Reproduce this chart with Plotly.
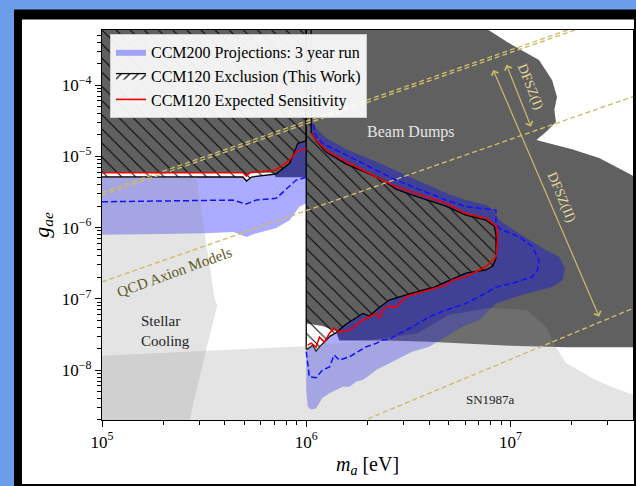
import numpy as np
import plotly.graph_objects as go

# ---------------- data (m_a in eV, g_ae) ----------------
# Beam dump exclusion (dark grey)
beam_m = [9e4, 5.6e6, 7.6e6, 1.02e7, 1.38e7, 1.6e7, 1.69e7, 1.64e7, 1.67e7, 1.51e7, 1.34e7,
          2.0e7, 2.72e7, 4.0e7, 4.5e7, 4.5e7, 1.87e7, 1.0e7, 4.0e6, 2.5e6, 1.45e6, 1.4e6, 1.2e6,
          1.0e6, 1.0e6, 7.1e5, 6.9e5, 5.3e5, 5.1e5, 4.9e5, 9e4]
beam_g = [1e-3, 1e-3, 6.2e-4, 3.64e-4, 2.24e-4, 1.17e-4, 6.8e-5, 4.46e-5, 3.03e-5, 2.26e-5, 1.69e-5,
          1.26e-5, 9.44e-6, 5.28e-6, 5.0e-6, 2.1e-8, 2.1e-8, 2.2e-8, 2.5e-8, 2.6e-8, 2.6e-8, 3.5e-8, 4.15e-8,
          4.5e-8, 5.1e-6, 5.1e-6, 5.87e-6, 5.87e-6, 5.28e-6, 5.87e-6, 5.87e-6]

# SN1987a (light grey)
sn_m = [9e4, 1e6, 2e6, 3.5e6, 5e6, 8e6, 1.2e7, 1.5e7, 1.67e7, 1.87e7, 2.62e7, 3.14e7, 4e7, 4.5e7, 4.5e7, 9e4]
sn_g = [1.57e-8, 2.17e-8, 2.6e-8, 3.3e-8, 6e-8, 7.5e-8, 7e-8, 4e-8, 2.1e-8, 1.26e-8, 7.2e-9, 5.8e-9,
        4.5e-9, 4.2e-9, 1e-9, 1e-9]

# Stellar cooling (light grey)
sc_m = [9e4, 2.9e5, 3.18e5, 3.57e5, 3.67e5, 3.18e5, 2.68e5, 2.6e5, 9e4]
sc_g = [5.12e-6, 5.12e-6, 8.4e-7, 9.6e-8, 8.2e-8, 1.58e-8, 2.0e-9, 1e-9, 1e-9]

# CCM120 exclusion (this work), part above 1 MeV (outline, bottom -> right -> top)
excl_r_m = [1e6, 1e6, 1.017e6, 1.076e6, 1.117e6, 1.17e6, 1.24e6, 1.31e6, 1.39e6, 1.47e6, 1.57e6,
            1.75e6, 1.89e6, 2.04e6, 2.2e6, 2.55e6, 2.75e6, 3.2e6, 3.72e6, 4.24e6, 4.83e6, 6.05e6,
            7.58e6, 8.2e6, 8.5e6, 8.5e6, 8.32e6, 7.58e6, 6.05e6, 4.83e6, 3.3e6, 2.75e6, 2.28e6,
            1.57e6, 1.25e6, 1.117e6, 1.057e6, 1.057e6]
excl_r_g = [1e-3, 1.97e-8, 1.97e-8, 2.24e-8, 1.85e-8, 2.17e-8, 2.55e-8, 3.0e-8, 3.3e-8, 3.76e-8, 4.43e-8,
            5.37e-8, 6.25e-8, 5.73e-8, 6.95e-8, 9.6e-8, 1.03e-7, 1.17e-7, 1.33e-7, 1.46e-7, 1.73e-7, 2.3e-7,
            2.54e-7, 2.88e-7, 3.73e-7, 7.85e-7, 1.05e-6, 1.27e-6, 1.5e-6, 2.0e-6, 2.86e-6, 3.47e-6, 4.95e-6,
            7.78e-6, 1.15e-5, 1.64e-5, 2.19e-5, 1e-3]
# CCM120 exclusion, part below 1 MeV
excl_l_m = [9e4, 1e6, 1e6, 9.1e5, 8.3e5, 7.1e5, 5.4e5, 5.1e5, 4.9e5, 9e4]
excl_l_g = [1e-3, 1e-3, 1.65e-5, 1.52e-5, 7.96e-6, 5.64e-6, 5.12e-6, 4.5e-6, 5.12e-6, 5.12e-6]

# CCM200 projection (3 year run): band below 1 MeV
ccm200_l_m = [9e4, 4.9e5, 5.1e5, 5.4e5, 7.1e5, 8.3e5, 9.1e5, 1e6,
              1e6, 9.25e5, 8.3e5, 7.1e5, 5.6e5, 5.1e5, 4.4e5, 3.2e5, 2e5, 9e4]
ccm200_l_g = [5.12e-6, 5.12e-6, 4.5e-6, 5.12e-6, 5.64e-6, 7.96e-6, 1.52e-5, 1.65e-5,
              2.19e-6, 1.96e-6, 1.27e-6, 9.8e-7, 8.2e-7, 7.4e-7, 8.7e-7, 8.3e-7, 8.1e-7, 7.9e-7]
# CCM200 projection above 1 MeV: outer contour (top -> lobe -> bottom)
ccm200_r_m = [1.057e6, 1.117e6, 1.25e6, 1.57e6, 2.28e6, 2.75e6, 3.3e6, 4.83e6, 6.05e6, 7.58e6, 8.14e6,
              8.81e6, 1.10e7, 1.49e7, 1.73e7, 1.85e7, 1.80e7, 1.60e7, 1.23e7, 1.02e7, 8.49e6, 7.87e6,
              7.03e6, 5.82e6, 4.83e6, 4.0e6, 3.3e6, 2.86e6, 2.55e6, 2.37e6, 2.2e6, 2.04e6, 1.89e6,
              1.75e6, 1.63e6, 1.51e6, 1.40e6, 1.3e6, 1.2e6, 1.16e6, 1.117e6, 1.057e6, 1.017e6, 1e6]
ccm200_r_g = [3.13e-5, 2.49e-5, 1.8e-5, 1.26e-5, 8.03e-6, 6.21e-6, 4.95e-6, 3.05e-6, 2.43e-6, 2.07e-6, 1.82e-6,
              1.27e-6, 8.3e-7, 4.83e-7, 3.89e-7, 2.67e-7, 1.83e-7, 1.46e-7, 1.21e-7, 1.03e-7, 8.63e-8, 6.95e-8,
              5.04e-8, 4.06e-8, 2.93e-8, 2.12e-8, 1.81e-8, 1.47e-8, 1.25e-8, 1.11e-8, 1.0e-8, 8.5e-9, 7.24e-9,
              6.85e-9, 5.83e-9, 5.83e-9, 5.24e-9, 4.75e-9, 4.05e-9, 3.44e-9, 2.9e-9, 2.81e-9, 3.05e-9, 5.24e-9]

# CCM120 expected sensitivity (red)
red_m = [1e5, 4.9e5, 5.1e5, 5.3e5, 7.1e5, 8.28e5, 8.93e5, 1e6, None,
         1.017e6, 1.057e6, 1.117e6, 1.16e6, 1.23e6, 1.3e6, 1.37e6, 1.45e6, 1.63e6, 1.75e6, 1.89e6,
         2.04e6, 2.2e6, 2.28e6, 2.39e6, 2.55e6, 2.75e6, 3.08e6, 3.72e6, 4.83e6, 5.2e6, 6.05e6, 7.58e6,
         8.49e6, 8.66e6, 8.56e6, 7.58e6, 6.05e6, 4.83e6, 2.75e6, 1.57e6, 1.25e6, 1.117e6, 1.057e6]
red_g = [5.87e-6, 5.87e-6, 5.28e-6, 5.87e-6, 6.41e-6, 8.85e-6, 1.16e-5, 1.29e-5, None,
         2.24e-8, 2.39e-8, 2.10e-8, 2.90e-8, 2.47e-8, 3.30e-8, 3.88e-8, 3.41e-8, 3.64e-8, 4.29e-8, 5.04e-8,
         5.55e-8, 6.25e-8, 5.37e-8, 7.18e-8, 7.9e-8, 7.66e-8, 1.07e-7, 1.26e-7, 1.56e-7, 1.83e-7, 2.04e-7, 2.82e-7,
         3.89e-7, 6.68e-7, 1.05e-6, 1.35e-6, 1.58e-6, 2.19e-6, 3.74e-6, 8.4e-6, 1.22e-5, 1.69e-5, 2.10e-5]

# CCM200 median expectation (blue dashed)
dash_m = [1e5, 4.36e5, 5.08e5, 5.69e5, 7.13e5, 8.93e5, 1e6, None,
          1e6, 1.036e6, 1.117e6, 1.2e6, 1.3e6, 1.37e6, 1.45e6, 1.63e6, 1.78e6, 1.96e6, 2.2e6, 2.37e6,
          2.55e6, 2.86e6, 3.32e6, 4.0e6, 4.83e6, 6.05e6, 7.03e6, 8.49e6, 1.02e7, 1.28e7, 1.36e7, 1.38e7,
          1.28e7, 1.10e7, 8.81e6, 8.49e6, 8.49e6, 6.05e6, 4.83e6, 2.75e6, 1.57e6, 1.2e6, 1.117e6, 1.076e6]
dash_g = [2.30e-6, 2.43e-6, 2.14e-6, 2.43e-6, 2.57e-6, 4.64e-6, 5.07e-6, None,
          1.81e-8, 8.05e-9, 7.8e-9, 1.0e-8, 1.11e-8, 1.63e-8, 1.38e-8, 1.54e-8, 1.79e-8, 2.12e-8, 2.37e-8, 2.64e-8,
          2.7e-8, 3.27e-8, 4.06e-8, 5.6e-8, 6.95e-8, 8.63e-8, 1.07e-7, 1.46e-7, 1.65e-7, 2.04e-7, 2.54e-7, 3.5e-7,
          5.38e-7, 7.43e-7, 9.75e-7, 1.16e-6, 1.76e-6, 1.96e-6, 2.43e-6, 4.64e-6, 1.04e-5, 1.52e-5, 1.88e-5, 3.05e-5]

# QCD axion model lines (endpoints)
qcd_a_m = [1e5, 4e7]
qcd_a_g = [2.86e-6, 1.14e-3]
qcd_a2_g = [3.1e-6, 1.24e-3]
qcd_b_m = [1e5, 4e7]
qcd_b_g = [1.73e-7, 6.92e-5]
qcd_c_m = [1.7e6, 4e7]
qcd_c_g = [1.7e-9, 7.4e-8]

# axis ticks
x_ticks = [1e5, 1e6, 1e7]
x_ticktext = ["10<sup>5</sup>", "10<sup>6</sup>", "10<sup>7</sup>"]
y_ticks = [1e-8, 1e-7, 1e-6, 1e-5, 1e-4]
y_ticktext = ["10<sup>\u22128</sup>", "10<sup>\u22127</sup>", "10<sup>\u22126</sup>",
              "10<sup>\u22125</sup>", "10<sup>\u22124</sup>"]

# ---------------- figure ----------------
GRAY = "#606060"
BLUE = "rgba(0,0,255,0.33)"
KHAKI = "#cbbd6a"
FONT = "Liberation Serif"

fig = go.Figure()

def region(x, y, color, **kw):
    fig.add_trace(go.Scatter(x=x, y=y, mode="lines", fill="toself", fillcolor=color,
                             line=dict(width=0), hoverinfo="skip", **kw))

region(beam_m, beam_g, GRAY, showlegend=False)

# CCM200: band below 1 MeV, and C-shaped band around the exclusion above 1 MeV
region(ccm200_l_m, ccm200_l_g, BLUE, name="CCM200 Projections: 3 year run", legendrank=1,
       legendgroup="ccm200")
region(ccm200_r_m + excl_r_m[1:-1], ccm200_r_g + excl_r_g[1:-1], BLUE, showlegend=False,
       legendgroup="ccm200")

hatch = dict(shape="\\", fgcolor="black", bgcolor="rgba(0,0,0,0)", size=10, solidity=0.1,
             fillmode="replace")
for xm, yg in ((excl_r_m, excl_r_g), (excl_l_m, excl_l_g)):
    fig.add_trace(go.Scatter(x=xm, y=yg, mode="lines", fill="toself", fillcolor="rgba(0,0,0,0)",
                             fillpattern=hatch, line=dict(color="black", width=1.3),
                             showlegend=False, hoverinfo="skip"))

region(sn_m, sn_g, "rgba(149,149,149,0.26)", showlegend=False)
region(sc_m, sc_g, "rgba(149,149,149,0.26)", showlegend=False)

# legend-only hatched entry
fig.add_trace(go.Scatter(x=[None], y=[None], mode="lines", fill="toself", fillcolor="white",
                         fillpattern=dict(shape="/", fgcolor="black", bgcolor="white", size=6,
                                          solidity=0.2, fillmode="replace"),
                         line=dict(color="black", width=1.3),
                         name="CCM120 Exclusion (This Work)", legendrank=2))

for gy in (qcd_a_g, qcd_a2_g):
    fig.add_trace(go.Scatter(x=qcd_a_m, y=gy, mode="lines", showlegend=False, hoverinfo="skip",
                             line=dict(color=KHAKI, width=1.4, dash="5px,3px")))
fig.add_trace(go.Scatter(x=qcd_b_m, y=qcd_b_g, mode="lines", showlegend=False, hoverinfo="skip",
                         line=dict(color=KHAKI, width=1.4, dash="5px,3px")))
fig.add_trace(go.Scatter(x=qcd_c_m, y=qcd_c_g, mode="lines", showlegend=False, hoverinfo="skip",
                         line=dict(color=KHAKI, width=1.4, dash="5px,3px")))

fig.add_trace(go.Scatter(x=dash_m, y=dash_g, mode="lines", showlegend=False, hoverinfo="skip",
                         line=dict(color="#1010ff", width=1.5, dash="6px,3px")))
fig.add_trace(go.Scatter(x=red_m, y=red_g, mode="lines", name="CCM120 Expected Sensitivity",
                         legendrank=3, hoverinfo="skip", line=dict(color="#ee0000", width=1.6)))

# ---------------- annotations ----------------
L = np.log10
ann = [
    dict(x=L(3.27e6), y=L(2.19e-5), text="Beam Dumps", font=dict(color="#e6e6e6", size=16)),
    dict(x=L(7.96e6), y=L(3.92e-9), text="SN1987a", font=dict(color="#222222", size=13)),
    dict(x=L(1.51e5), y=L(3.52e-8), text="Stellar<br>Cooling", xanchor="left", align="left",
         font=dict(color="#222222", size=15)),
    dict(x=L(2.27e5), y=L(2.37e-7), text="QCD Axion Models", textangle=-20,
         font=dict(color="#5c5a1e", size=15)),
    dict(x=L(1.25e7), y=L(9.4e-5), text="DFSZ(I)", textangle=68, font=dict(color="#e2d69a", size=14)),
    dict(x=L(1.77e7), y=L(2.68e-6), text="DFSZ(II)", textangle=67, font=dict(color="#e2d69a", size=14)),
]
for a in ann:
    a.setdefault("xanchor", "center")
    a["font"]["family"] = FONT
    fig.add_annotation(xref="x", yref="y", showarrow=False, yanchor="middle", **a)

for (m0, g0, m1, g1) in [(9.5e6, 2.02e-4, 1.26e7, 2.6e-5), (8.17e6, 1.71e-4, 2.72e7, 5.6e-8)]:
    fig.add_annotation(xref="x", yref="y", axref="x", ayref="y", x=L(m1), y=L(g1), ax=L(m0), ay=L(g0),
                       text="", showarrow=True, arrowside="end+start", arrowhead=4, startarrowhead=4,
                       arrowsize=1.2, startarrowsize=1.2, arrowwidth=1.2, arrowcolor=KHAKI,
                       standoff=0, startstandoff=0)

# ---------------- frame ----------------
fig.add_shape(type="rect", xref="paper", yref="paper", x0=-0.1657, x1=1.03, y0=-0.2, y1=1.0526,
              fillcolor="black", line=dict(width=0), layer="below")
fig.add_shape(type="rect", xref="paper", yref="paper", x0=-0.1507, x1=1.0019, y0=-0.1641, y1=1.0267,
              fillcolor="white", line=dict(width=0), layer="below")

minor_x = [k * 10.0 ** e for e in (5, 6, 7) for k in range(2, 10)]
minor_y = [k * 10.0 ** e for e in range(-9, -3) for k in range(2, 10)]

axis_common = dict(type="log", showgrid=False, zeroline=False, showline=True, linecolor="black",
                   linewidth=1.2, mirror=True, ticks="outside", ticklen=6, tickwidth=1,
                   tickcolor="black", tickfont=dict(family=FONT, size=17, color="black"),
                   tickmode="array")

fig.update_xaxes(range=[5, 7.6], tickvals=x_ticks, ticktext=x_ticktext,
                 minor=dict(ticks="outside", ticklen=3.5, tickwidth=0.8, tickcolor="black",
                            tickmode="array", tickvals=minor_x, showgrid=False),
                 title=dict(text="<i>m</i><sub><i>a</i></sub> [eV]",
                            font=dict(family=FONT, size=20, color="black"), standoff=6),
                 **axis_common)
fig.update_yaxes(range=[-8.70, -3.228], tickvals=y_ticks, ticktext=y_ticktext,
                 minor=dict(ticks="outside", ticklen=3.5, tickwidth=0.8, tickcolor="black",
                            tickmode="array", tickvals=minor_y, showgrid=False),
                 title=dict(text="<i>g</i><sub><i>ae</i></sub>",
                            font=dict(family=FONT, size=22, color="black"), standoff=6),
                 **axis_common)

fig.update_layout(
    width=636, height=486,
    margin=dict(l=102, r=3, t=30, b=66),
    paper_bgcolor="#6b9de8",
    plot_bgcolor="rgba(0,0,0,0)",
    showlegend=True,
    legend=dict(x=0.015, y=0.99, xanchor="left", yanchor="top",
                bgcolor="rgba(255,255,255,0.92)", bordercolor="#cccccc", borderwidth=1,
                font=dict(family=FONT, size=16, color="black"), tracegroupgap=0),
    font=dict(family=FONT),
)

fig.write_html("out.html", config={"displayModeBar": False},
               post_script="document.body.style.margin='0px';document.body.style.overflow='hidden';")
